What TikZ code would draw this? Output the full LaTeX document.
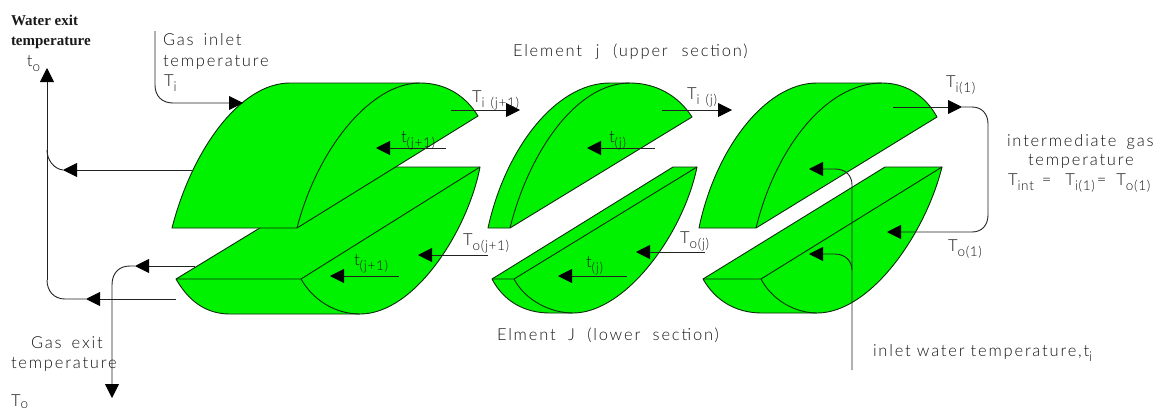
\documentclass[tikz,border=0pt]{standalone}
\usepackage{fontspec}
\usetikzlibrary{arrows.meta}
\newfontfamily\cadfont[LetterSpace=11,WordSpace=1.6]{Lato Light}
\newfontfamily\cadsmall[LetterSpace=5,WordSpace=1.4]{Lato Light}
\newfontfamily\serifb{Liberation Serif}
\newcommand{\lo}[1]{\raisebox{-5pt}{\fontsize{13.5}{13.5}\cadsmall #1}}
\definecolor{blockgreen}{HTML}{00F200}
\definecolor{edge}{HTML}{0A2A0A}
\definecolor{wire}{HTML}{222222}
\tikzset{
  block/.style={fill=blockgreen,draw=edge,line width=0.9pt,line join=round},
  crease/.style={draw=edge,line width=0.9pt},
  wireline/.style={draw=wire,line width=0.9pt},
  flow/.style={wireline,-{Triangle[length=14pt,width=14pt,color=black]}},
  lab/.style={anchor=base west,inner sep=0pt,outer sep=0pt,text=black!92,font=\fontsize{16.5}{16.5}\cadfont},
  serlab/.style={anchor=base west,inner sep=0pt,outer sep=0pt,text=black!90,font=\fontsize{15}{15}\serifb\bfseries}
}
\begin{document}
\begin{tikzpicture}[x=1pt,y=-1pt]
\useasboundingbox (0,0) rectangle (1160,413);
% blocks
\path[block] (176,279) -- (360,167) -- (480,167) .. controls (468,230) and (415,314) .. (360,314) -- (230,314) .. controls (205,314) and (188,300) .. (176,279) -- cycle;
\path[crease] (176,279) -- (301,279) -- (480,167);
\path[crease] (301,279) .. controls (313,300) and (335,314) .. (360,314);
\path[block] (172,228) .. controls (192,150) and (240,83) .. (290,83) -- (420,83) .. controls (445,83) and (465,95) .. (478,116) -- (297,228) -- cycle;
\path[crease] (297,228) .. controls (317,150) and (370,83) .. (420,83);
\path[block] (488,228) .. controls (505,150) and (555,83) .. (610,83) -- (630,83) .. controls (655,83) and (678,95) .. (692,117) -- (510,228) -- cycle;
\path[crease] (510,228) .. controls (528,155) and (575,83) .. (630,83);
\path[block] (492,279) -- (673,167) -- (697,167) .. controls (683,235) and (625,313) .. (573,313) -- (550,313) .. controls (523,313) and (503,300) .. (492,279) -- cycle;
\path[crease] (492,279) -- (514,279) -- (697,167);
\path[crease] (514,279) .. controls (525,300) and (550,313) .. (573,313);
\path[block] (699,228) .. controls (715,150) and (765,83) .. (817,83) -- (882,83) .. controls (905,83) and (925,95) .. (937,117) -- (756,228) -- cycle;
\path[crease] (756,228) .. controls (775,150) and (825,83) .. (882,83);
\path[block] (703,279) -- (885,167) -- (942,167) .. controls (925,235) and (870,313) .. (817,313) -- (762,313) .. controls (735,313) and (715,300) .. (703,279) -- cycle;
\path[crease] (703,279) -- (761,279) -- (942,167);
\path[crease] (761,279) .. controls (772,300) and (795,313) .. (817,313);
% connector ends
\coordinate (wtop) at (47,68);
\coordinate (wjoin) at (47,150);
\coordinate (wbot) at (47,280);
\coordinate (wa) at (86,299);
\coordinate (wb) at (176,299);
\coordinate (wc) at (193,170);
\coordinate (wd) at (63,170);
\coordinate (ga) at (155,31);
\coordinate (gb) at (243,103);
\coordinate (ea) at (195,266);
\coordinate (eb) at (135,266);
\coordinate (ec) at (112,398);
\coordinate (a1) at (451,110); \coordinate (a2) at (520,110);
\coordinate (b1) at (446,148); \coordinate (b2) at (376,148);
\coordinate (c1) at (488,255); \coordinate (c2) at (418,255);
\coordinate (d1) at (399,276); \coordinate (d2) at (330,276);
\coordinate (e1) at (655,148); \coordinate (e2) at (587,148);
\coordinate (f1) at (662,110); \coordinate (f2) at (732,110);
\coordinate (g1) at (705,252); \coordinate (g2) at (636,252);
\coordinate (h1) at (627,276); \coordinate (h2) at (558,276);
\coordinate (i1) at (893,107); \coordinate (i2) at (962,107);
\coordinate (i3) at (887,232);
\coordinate (w1) at (852,370); \coordinate (w2) at (809,169);
\coordinate (w3) at (852,270); \coordinate (w4) at (809,254);
% connectors
\draw[flow] (wb) -- (wa);
\draw[wireline] (wa) -- (65,299) .. controls (54,299) and (47,291) .. (wbot);
\draw[flow] (wbot) -- (wtop);
\draw[flow] (wc) -- (wd);
\draw[wireline] (wd) .. controls (54,169) and (47,160) .. (wjoin);
\draw[flow] (ga) -- (155,85) .. controls (155,96) and (162,103) .. (173,103) -- (gb);
\draw[flow] (ea) -- (eb);
\draw[wireline] (eb) -- (130,266) .. controls (119,266) and (112,273) .. (112,285) -- (112,390);
\draw[flow] (112,385) -- (ec);
\draw[flow] (a1) -- (a2);
\draw[flow] (b1) -- (b2);
\draw[flow] (c1) -- (c2);
\draw[flow] (d1) -- (d2);
\draw[flow] (e1) -- (e2);
\draw[flow] (f1) -- (f2);
\draw[flow] (g1) -- (g2);
\draw[flow] (h1) -- (h2);
\draw[flow] (i1) -- (i2);
\draw[flow] (i2) -- (972,107) .. controls (982,107) and (988,114) .. (988,124) -- (988,215) .. controls (988,225) and (982,232) .. (972,232) -- (i3);
\draw[flow] (w1) -- (852,185) .. controls (852,175) and (845,169) .. (835,169) -- (w2);
\draw[flow] (w3) .. controls (852,261) and (845,254) .. (835,254) -- (w4);
% labels
\node[serlab] (l1) at (11,25) {Water exit};
\node[serlab] (l2) at (11,45) {temperature};
\node[lab] (l3) at (27,66) {t\lo{o}};
\node[lab] (l4) at (163,45) {Gas inlet};
\node[lab] (l5) at (163,66) {temperature};
\node[lab] (l6) at (164,86) {T\lo{i}};
\node[lab] (l7) at (31,348) {Gas exit};
\node[lab] (l8) at (11,368) {temperature};
\node[lab] (l9) at (11,406) {T\raisebox{-2pt}{\fontsize{13.5}{13.5}\cadsmall o}};
\node[lab] (l10) at (513,56) {Element \hspace{3.6pt}j \hspace{3.6pt}(upper \hspace{3.6pt}section)};
\node[lab] (l11) at (497,340) {Elment \hspace{2.3pt}J \hspace{2.3pt}(lower \hspace{2.3pt}section)};
\node[lab] (l12) at (472,102) {T\lo{i (j+1)}};
\node[lab] (l13) at (401,142) {t\lo{(j+1)}};
\node[lab] (l14) at (463,245) {T\lo{o(j+1)}};
\node[lab] (l15) at (354,265) {t\lo{(j+1)}};
\node[lab] (l16) at (609,142) {t\lo{(j)}};
\node[lab] (l17) at (687,99) {T\lo{i (j)}};
\node[lab] (l18) at (680,243) {T\lo{o(j)}};
\node[lab] (l19) at (586,267) {t\lo{(j)}};
\node[lab] (l20) at (946,87) {T\lo{i(1)}};
\node[lab] (l21) at (948,251) {T\lo{o(1)}};
\node[lab] (l22) at (1007,146) {intermediate gas};
\node[lab] (l23) at (1028,165) {temperature};
\node[lab] (l24) at (1008,185) {T\lo{int}\hspace{8pt}=\hspace{14pt}T\lo{i(1)}\hspace{2pt}=\hspace{10pt}T\lo{o(1)}};
\node[lab] (l25) at (873,356) {inlet\hspace{6pt}water\hspace{6pt}temperature,t\lo{i}};
\end{tikzpicture}
\end{document}
